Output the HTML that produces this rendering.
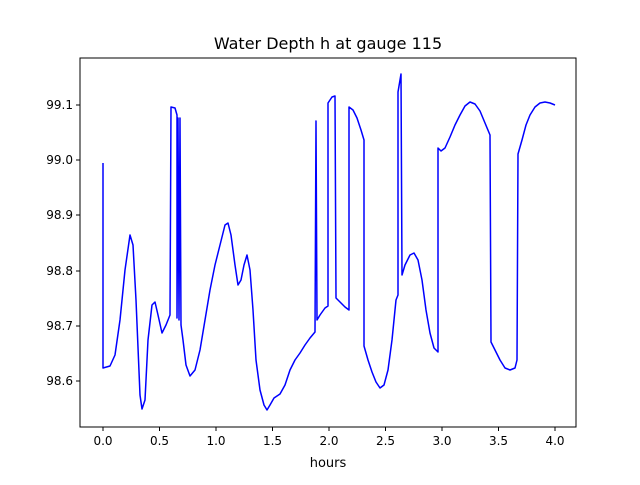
<!DOCTYPE html>
<html><head><meta charset="utf-8"><style>body{margin:0;background:#fff}</style></head><body>
<svg width="640" height="480" xmlns="http://www.w3.org/2000/svg" font-family="DejaVu Sans, Liberation Sans, sans-serif">
<rect width="640" height="480" fill="#fff"/>
<text x="328" y="49" font-size="16" text-anchor="middle">Water Depth h at gauge 115</text>
<polyline fill="none" stroke="#0000ff" stroke-width="1.5" stroke-linejoin="round" points="103,163 103,368 110,366 115,355 120,320 125,270 130,235 133,245 136,300 140,395 142,409 145,400 148,340 152,305 155,302 158,315 162,333 166,325 170,315 171,107 175,108 177,115 177,318 178,118 179,320 180,118 181,325 183,340 186,365 190,376 195,370 200,350 205,320 210,290 215,265 220,245 225,225 228,223 231,235 235,265 238,285 241,280 244,265 247,255 250,270 253,310 256,360 260,390 264,405 267,410 270,405 274,398 280,394 285,385 290,370 295,360 300,353 305,345 310,338 315,332 316,121 317,320 320,315 325,308 328,306 328,103 332,97 335,96 336,298 340,302 345,307 349,310 349,107 353,110 357,118 361,130 364,140 364,346 368,360 372,372 376,382 380,388 384,385 388,370 392,340 396,300 398,295 398,92 401,74 402,275 405,265 410,255 414,253 418,260 422,280 426,310 430,333 434,348 438,352 438,148 441,151 445,148 450,137 455,125 460,115 465,106 470,102 475,104 480,111 485,123 490,135 491,342 495,350 500,360 505,368 510,370 515,368 517,360 518,154 522,140 526,125 530,115 535,107 540,103 545,102 550,103 555,105"/>
<rect x="80" y="58" width="496" height="369" fill="none" stroke="#000" stroke-width="1"/>
<g stroke="#000" stroke-width="1">
<line x1="103" y1="427" x2="103" y2="431"/><line x1="159.5" y1="427" x2="159.5" y2="431"/><line x1="216" y1="427" x2="216" y2="431"/><line x1="272.5" y1="427" x2="272.5" y2="431"/><line x1="329" y1="427" x2="329" y2="431"/><line x1="385.5" y1="427" x2="385.5" y2="431"/><line x1="442" y1="427" x2="442" y2="431"/><line x1="498.5" y1="427" x2="498.5" y2="431"/><line x1="555" y1="427" x2="555" y2="431"/>
<line x1="76" y1="105" x2="80" y2="105"/><line x1="76" y1="160" x2="80" y2="160"/><line x1="76" y1="215" x2="80" y2="215"/><line x1="76" y1="271" x2="80" y2="271"/><line x1="76" y1="326" x2="80" y2="326"/><line x1="76" y1="381" x2="80" y2="381"/>
</g>
<g font-size="12" text-anchor="middle">
<text x="103" y="445">0.0</text><text x="159.5" y="445">0.5</text><text x="216" y="445">1.0</text><text x="272.5" y="445">1.5</text><text x="329" y="445">2.0</text><text x="385.5" y="445">2.5</text><text x="442" y="445">3.0</text><text x="498.5" y="445">3.5</text><text x="555" y="445">4.0</text>
<text x="328" y="467" font-size="13">hours</text>
</g>
<g font-size="12" text-anchor="end">
<text x="73" y="109">99.1</text><text x="73" y="164">99.0</text><text x="73" y="219">98.9</text><text x="73" y="275">98.8</text><text x="73" y="330">98.7</text><text x="73" y="385">98.6</text>
</g>
</svg>
</body></html>
